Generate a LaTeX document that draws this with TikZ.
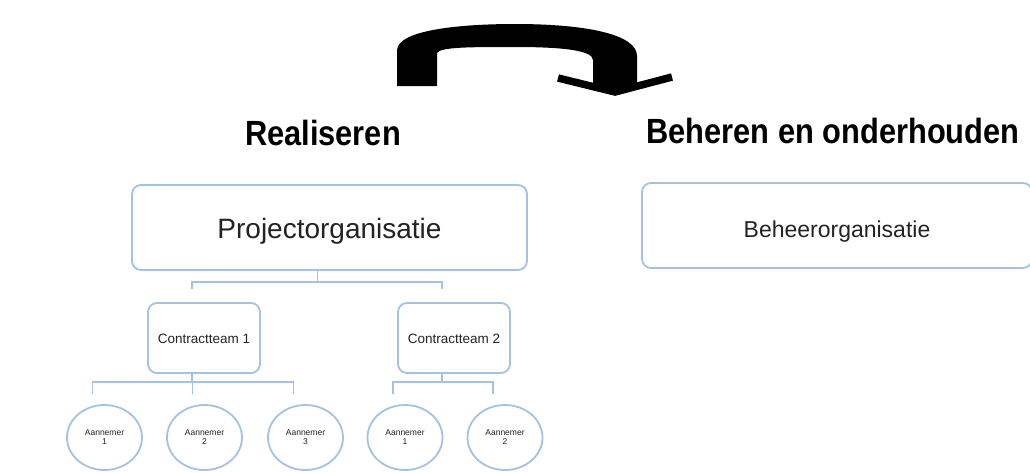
\documentclass[tikz,border=0pt]{standalone}
\usepackage{fontspec}
\usepackage{graphicx}
\setmainfont{Liberation Sans}
\usetikzlibrary{shapes.geometric}
\definecolor{boxblue}{RGB}{165,193,228}
\definecolor{txt}{RGB}{35,35,35}
\newcommand{\lowtext}[2]{\raisebox{-#1}[0pt][0pt]{#2}}
\tikzset{
  orgbox/.style={draw=boxblue, line width=1.8pt, rounded corners=9pt, fill=white, text=txt, inner sep=0pt},
  ellbox/.style={ellipse, draw=boxblue, line width=1.8pt, fill=white, text=txt, inner sep=0pt,
                 minimum width=75pt, minimum height=65pt, align=center, font=\fontsize{8.5}{9}\selectfont},
  conn/.style={draw=boxblue, line width=1.8pt},
  titletext/.style={anchor=base, inner sep=0pt, font=\fontsize{35}{38}\selectfont\bfseries, text=black}
}
\begin{document}
\begin{tikzpicture}[x=1pt,y=-1pt]
\useasboundingbox (0,0) rectangle (1030,472);
\fill[white] (0,0) rectangle (1030,472);

% curved arrow
\fill[black] (397,86) -- (397,50) .. controls (398,30) and (460,24) .. (515,24)
  .. controls (585,24) and (637,34) .. (637,56) -- (637,84) -- (615,92) -- (593,84) -- (593,60)
  .. controls (593,50) and (560,47) .. (515,47) .. controls (470,47) and (440,47) .. (437,53)
  -- (437,86) -- cycle;
\draw[black, line width=7.5pt, line join=miter] (558,78) -- (615,92) -- (672,77);

% titles
\node[titletext] (t1) at (323,145) {\scalebox{0.88}[1]{Realiseren}};
\node[titletext] (t2) at (833,143) {\scalebox{0.88}[1]{Beheren en onderhouden}};

% boxes
\node[orgbox, minimum width=395pt, minimum height=85pt, font=\fontsize{28}{30}\selectfont] (proj) at (329.5,227.5) {\lowtext{10.5pt}{Projectorganisatie}};
\node[orgbox, minimum width=390pt, minimum height=85pt, font=\fontsize{23}{25}\selectfont] (beh) at (837,225.5) {\lowtext{11.5pt}{Beheerorganisatie}};
\node[orgbox, minimum width=112pt, minimum height=70pt, font=\fontsize{13.5}{15}\selectfont] (ct1) at (204,338) {\lowtext{5.5pt}{Contractteam 1}};
\node[orgbox, minimum width=112pt, minimum height=70pt, font=\fontsize{13.5}{15}\selectfont] (ct2) at (454,338) {\lowtext{5.5pt}{Contractteam 2}};

\node[ellbox] (a1) at (104.5,437.5) {Aannemer\\1};
\node[ellbox] (a2) at (204.5,437.5) {Aannemer\\2};
\node[ellbox] (a3) at (305.5,437.5) {Aannemer\\3};
\node[ellbox] (b1) at (405,437.5) {Aannemer\\1};
\node[ellbox] (b2) at (505,437.5) {Aannemer\\2};

% connectors level 1
\coordinate (busA) at ([xshift=-12pt,yshift=20pt]ct1.north);
\coordinate (busB) at ([xshift=-12pt,yshift=20pt]ct2.north);
\draw[conn] ([xshift=-12pt]proj.south) -- ([xshift=-12pt]proj.south |- busA);
\draw[conn] ([xshift=-12pt,yshift=13pt]ct1.north) -- (busA) -- (busB) -- ([xshift=-12pt,yshift=13pt]ct2.north);

% connectors level 2 (team 1)
\coordinate (busC) at ([xshift=-12pt,yshift=22pt]a1.north);
\coordinate (busD) at ([xshift=-12pt,yshift=22pt]a3.north);
\draw[conn] ([xshift=-12pt]ct1.south) -- ([xshift=-12pt]ct1.south |- busC);
\draw[conn] ([xshift=-12pt,yshift=10pt]a1.north) -- (busC) -- (busD) -- ([xshift=-12pt,yshift=10pt]a3.north);
\draw[conn] ([xshift=-12pt,yshift=10pt]a2.north) -- ([xshift=-12pt,yshift=22pt]a2.north);

% connectors level 2 (team 2)
\coordinate (busE) at ([xshift=-12pt,yshift=22pt]b1.north);
\coordinate (busF) at ([xshift=-12pt,yshift=22pt]b2.north);
\draw[conn] ([xshift=-12pt]ct2.south) -- ([xshift=-12pt]ct2.south |- busE);
\draw[conn] ([xshift=-12pt,yshift=10pt]b1.north) -- (busE) -- (busF) -- ([xshift=-12pt,yshift=10pt]b2.north);
\end{tikzpicture}
\end{document}
